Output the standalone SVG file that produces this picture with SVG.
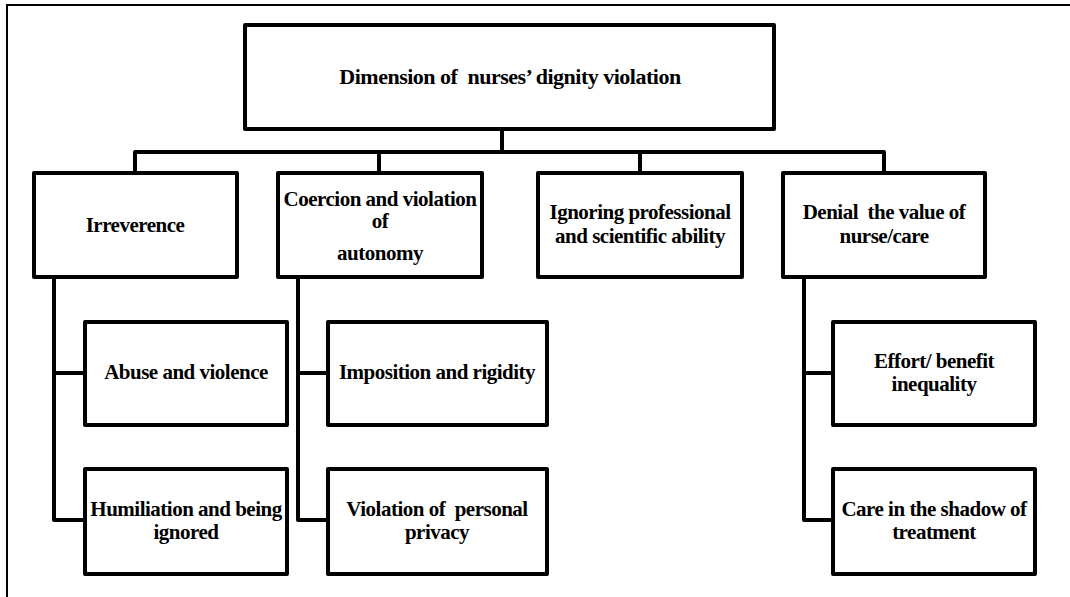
<svg xmlns="http://www.w3.org/2000/svg" width="1070" height="597" viewBox="0 0 1070 597">
<style>
.box{fill:#fff;stroke:#000;stroke-width:4;stroke-linejoin:round}
.ln{fill:none;stroke:#000;stroke-width:4;stroke-linejoin:round}
text{font-family:"Liberation Serif","Times New Roman",serif;font-weight:bold;font-size:21px;letter-spacing:-0.5px;text-anchor:middle;fill:#000;white-space:pre}
.t{font-size:22px}
</style>
<rect x="0" y="0" width="1070" height="597" fill="#fff"/>
<path d="M7,597 V5 H1070" fill="none" stroke="#000" stroke-width="2"/>
<g id="connectors">
<path class="ln" d="M502,129 V152"/>
<path class="ln" d="M135,173 V152 H884 V173"/>
<path class="ln" d="M379,152 V173"/>
<path class="ln" d="M640,152 V173"/>
<path class="ln" d="M54,277 V520 H85"/>
<path class="ln" d="M54,373 H85"/>
<path class="ln" d="M298,277 V520 H328"/>
<path class="ln" d="M298,373 H328"/>
<path class="ln" d="M804,277 V520 H833"/>
<path class="ln" d="M804,373 H833"/>
</g>
<g id="root"><rect class="box" x="245" y="25" width="529" height="104"/><text class="t" x="510" y="84" xml:space="preserve">Dimension of  nurses’ dignity violation</text></g>
<g id="irreverence"><rect class="box" x="34" y="173" width="203" height="104"/><text x="135" y="232">Irreverence</text></g>
<g id="coercion"><rect class="box" x="278" y="173" width="204" height="104"/><text x="380" y="206">Coercion and violation</text><text x="380" y="228">of</text><text x="380" y="260">autonomy</text></g>
<g id="ignoring"><rect class="box" x="538" y="173" width="204" height="104"/><text x="640" y="219">Ignoring professional</text><text x="640" y="243">and scientific ability</text></g>
<g id="denial"><rect class="box" x="783" y="173" width="202" height="104"/><text x="884" y="219" xml:space="preserve">Denial  the value of</text><text x="884" y="243">nurse/care</text></g>
<g id="abuse"><rect class="box" x="85" y="322" width="202" height="103"/><text x="186" y="379">Abuse and violence</text></g>
<g id="humiliation"><rect class="box" x="85" y="469" width="202" height="105"/><text x="186" y="516">Humiliation and being</text><text x="186" y="539">ignored</text></g>
<g id="imposition"><rect class="box" x="328" y="322" width="219" height="103"/><text x="437" y="379">Imposition and rigidity</text></g>
<g id="privacy"><rect class="box" x="328" y="469" width="219" height="105"/><text x="437" y="516" xml:space="preserve">Violation of  personal</text><text x="437" y="539">privacy</text></g>
<g id="effort"><rect class="box" x="833" y="322" width="202" height="103"/><text x="934" y="368">Effort/ benefit</text><text x="934" y="391">inequality</text></g>
<g id="care"><rect class="box" x="833" y="469" width="202" height="105"/><text x="934" y="516">Care in the shadow of</text><text x="934" y="539">treatment</text></g>
</svg>
